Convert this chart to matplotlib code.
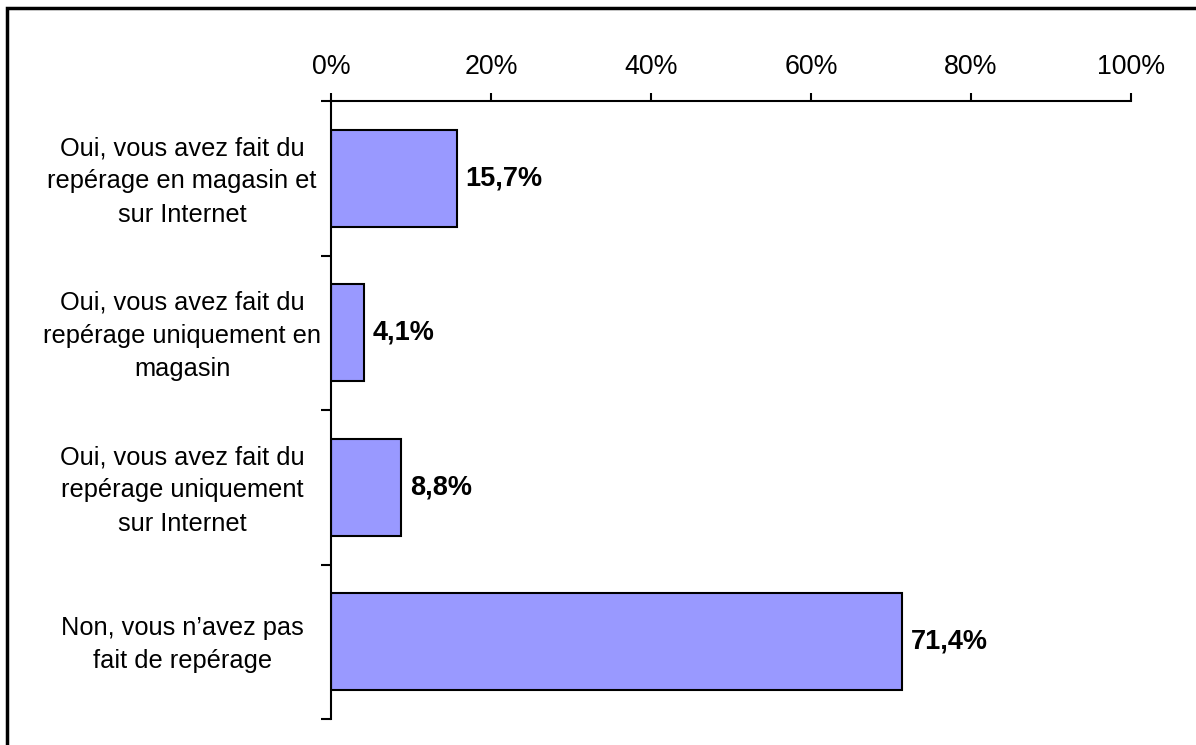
import numpy as np
import matplotlib.pyplot as plt
from matplotlib.patches import Rectangle

# data
categories = ['Oui, vous avez fait du\nrepérage en magasin et\nsur Internet',
              'Oui, vous avez fait du\nrepérage uniquement en\nmagasin',
              'Oui, vous avez fait du\nrepérage uniquement\nsur Internet',
              'Non, vous n\u2019avez pas\nfait de repérage']
values = [15.7, 4.1, 8.8, 71.4]
value_labels = ['15,7%', '4,1%', '8,8%', '71,4%']
tick_values = [0, 20, 40, 60, 80, 100]
tick_labels = ['0%', '20%', '40%', '60%', '80%', '100%']

plt.rcParams['font.family'] = ['Liberation Sans', 'DejaVu Sans']

fig = plt.figure(figsize=(11.96, 7.45), dpi=100)
ax = fig.add_axes([331/1196, 1 - 719/745, 800/1196, 618/745])

ypos = np.arange(len(categories)) + 0.5
ax.barh(ypos, values, height=0.63, color='#9999FF', edgecolor='black', linewidth=1.5)

for y, v, lab in zip(ypos, values, value_labels):
    ax.text(v + 1.1, y, lab, va='center', ha='left', fontsize=19.5, fontweight='bold')

for y, cat in zip(ypos, categories):
    ax.text(-18.6, y + 0.02, cat, va='center', ha='center', fontsize=18.3, linespacing=1.49)

ax.set_xlim(0, 100)
ax.set_ylim(4, 0)
ax.xaxis.tick_top()
ax.set_xticks(tick_values)
ax.set_xticklabels(tick_labels, fontsize=19.3)
ax.set_yticks([0, 1, 2, 3, 4])
ax.set_yticklabels([])
ax.tick_params(axis='x', direction='out', length=6, width=1.5, pad=8.8)
ax.tick_params(axis='y', direction='out', length=7, width=1.5)
for s in ['right', 'bottom']:
    ax.spines[s].set_visible(False)
for s in ['top', 'left']:
    ax.spines[s].set_linewidth(1.5)

# outer border (left and top visible)
fig.patches.append(Rectangle((7/1196, -0.05), 1.2, 1 - 8/745 + 0.05, transform=fig.transFigure,
                             fill=False, edgecolor='black', linewidth=2.5))

fig.savefig('out.png', dpi=100)
